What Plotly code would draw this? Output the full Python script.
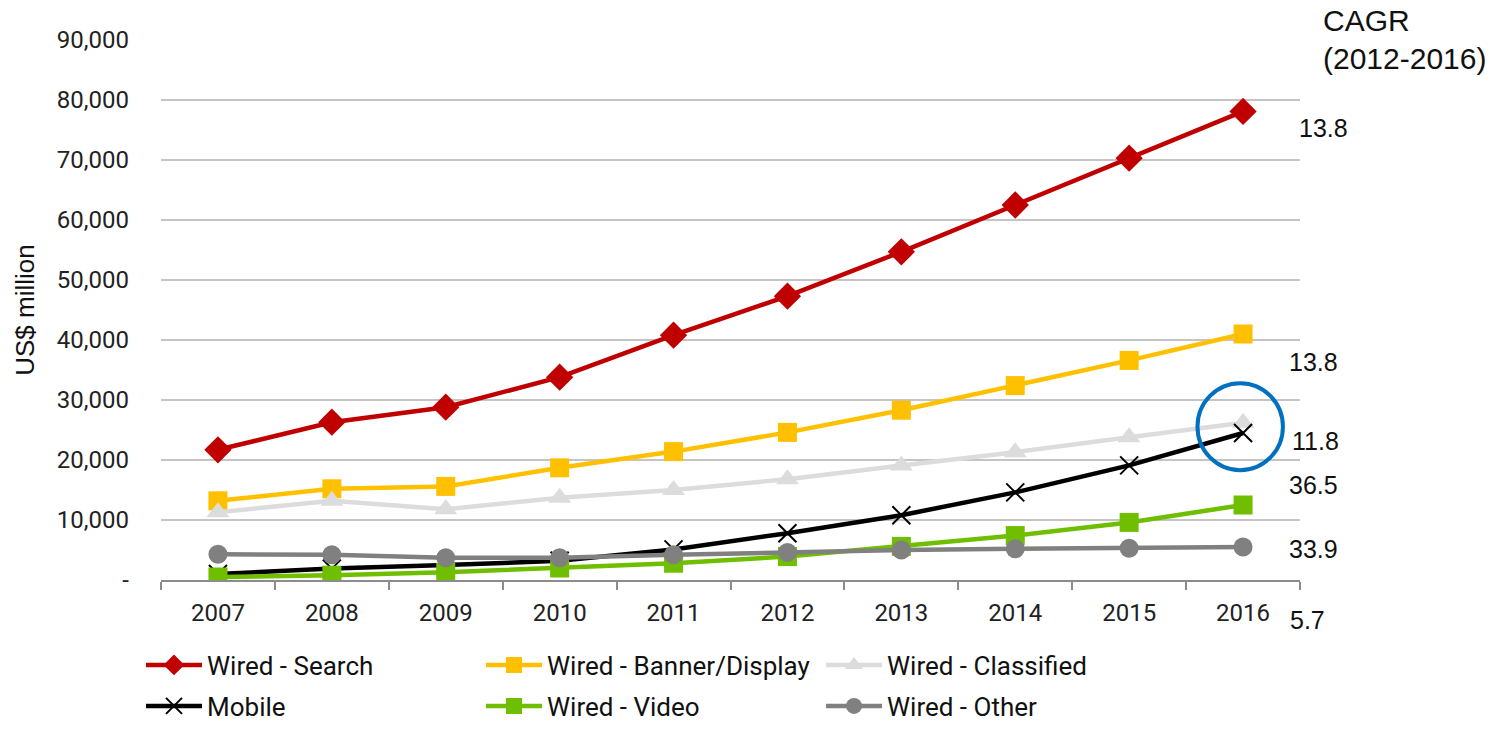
import plotly.graph_objects as go

years = ["2007", "2008", "2009", "2010", "2011", "2012", "2013", "2014", "2015", "2016"]
search = [21700, 26300, 28800, 33800, 40800, 47300, 54700, 62500, 70300, 78100]
banner = [13200, 15200, 15600, 18700, 21400, 24600, 28300, 32400, 36600, 41000]
classified = [11300, 13200, 11800, 13700, 15000, 16800, 19100, 21300, 23800, 26200]
mobile = [1000, 1900, 2500, 3200, 5100, 7800, 10800, 14600, 19100, 24500]
video = [500, 800, 1300, 2000, 2800, 3900, 5600, 7400, 9600, 12500]
other = [4300, 4200, 3700, 3700, 4200, 4600, 5000, 5200, 5300, 5500]

cagr_vals = ["13.8", "13.8", "11.8", "36.5", "33.9", "5.7"]
ytick_vals = [0, 10000, 20000, 30000, 40000, 50000, 60000, 70000, 80000, 90000]
ytick_text = ["-", "10,000", "20,000", "30,000", "40,000", "50,000", "60,000", "70,000", "80,000", "90,000"]

series = [
    ("Wired - Search", search, "#C00000", "diamond", 21, "legend"),
    ("Wired - Banner/Display", banner, "#FFC000", "square", 19, "legend"),
    ("Wired - Classified", classified, "#DCDCDC", "triangle-up", 20, "legend"),
    ("Mobile", mobile, "#000000", "x-thin-open", 18, "legend2"),
    ("Wired - Video", video, "#6FBE00", "square", 19, "legend2"),
    ("Wired - Other", other, "#808080", "circle", 19, "legend2"),
]

fig = go.Figure()
for name, vals, col, sym, size, lg in series:
    marker = dict(symbol=sym, size=size, color=col)
    if sym == "x-thin-open":
        marker["line"] = dict(color=col, width=2)
    fig.add_trace(go.Scatter(
        x=years, y=vals, name=name, mode="lines+markers",
        line=dict(color=col, width=4.5), marker=marker, legend=lg,
    ))

W, H = 1502, 730
L, R, T, B = 161, 202, 40, 150
pw, ph = W - L - R, H - T - B

def px(xp):
    return (xp - L) / pw

def py(yp):
    return (H - B - yp) / ph

legend_font = dict(family="Roboto, Arial", size=26, color="#111111")
leg_common = dict(orientation="h", xanchor="left", yanchor="middle",
                  itemwidth=56, entrywidth=269, entrywidthmode="pixels",
                  font=legend_font, bgcolor="rgba(0,0,0,0)")
fig.update_layout(
    width=W, height=H,
    margin=dict(l=L, r=R, t=T, b=B, autoexpand=False),
    paper_bgcolor="white", plot_bgcolor="white",
    showlegend=True,
    legend=dict(x=px(141), y=py(665), **leg_common),
    legend2=dict(x=px(141), y=py(706), **leg_common),
    xaxis=dict(type="category", showgrid=False, showline=True, linecolor="#8C8C8C", linewidth=2,
               ticks="outside", tickson="boundaries", ticklen=8, tickcolor="#8C8C8C", tickwidth=2,
               ticklabelstandoff=10,
               tickfont=dict(family="Roboto, Arial", size=24, color="#222222"),
               range=[-0.5, 9.5]),
    yaxis=dict(range=[0, 90000], tickvals=ytick_vals, ticktext=ytick_text,
               showgrid=True, gridcolor="#C4C4C4", gridwidth=1.5, zeroline=False, showline=False,
               ticks="", ticklabelstandoff=31,
               tickfont=dict(family="Roboto, Arial", size=24, color="#222222"),
               title=dict(text="US$ million", font=dict(family="Liberation Sans, Arial", size=26, color="#111111"),
                          standoff=14)),
)

# blue highlight circle around Mobile 2016
fig.add_shape(type="circle", xref="x", yref="y", x0=8.6, x1=9.35, y0=18300, y1=32800,
              line=dict(color="#0070C0", width=4))

num_font = dict(family="Liberation Sans, Arial", size=25, color="#111111")
label_pos = [(1297, 128), (1287, 362), (1290, 441), (1287, 485), (1287, 549), (1288, 620)]
for txt, (xp, yp) in zip(cagr_vals, label_pos):
    fig.add_annotation(text=txt, xref="paper", yref="paper", x=px(xp), y=py(yp),
                       xanchor="left", yanchor="middle", showarrow=False, font=num_font)

head_font = dict(family="Liberation Sans, Arial", size=30, color="#111111")
fig.add_annotation(text="CAGR", xref="paper", yref="paper", x=px(1321), y=py(20),
                   xanchor="left", yanchor="middle", showarrow=False, font=head_font)
fig.add_annotation(text="(2012-2016)", xref="paper", yref="paper", x=px(1321), y=py(58),
                   xanchor="left", yanchor="middle", showarrow=False, font=head_font)

fig.write_html("out.html")
